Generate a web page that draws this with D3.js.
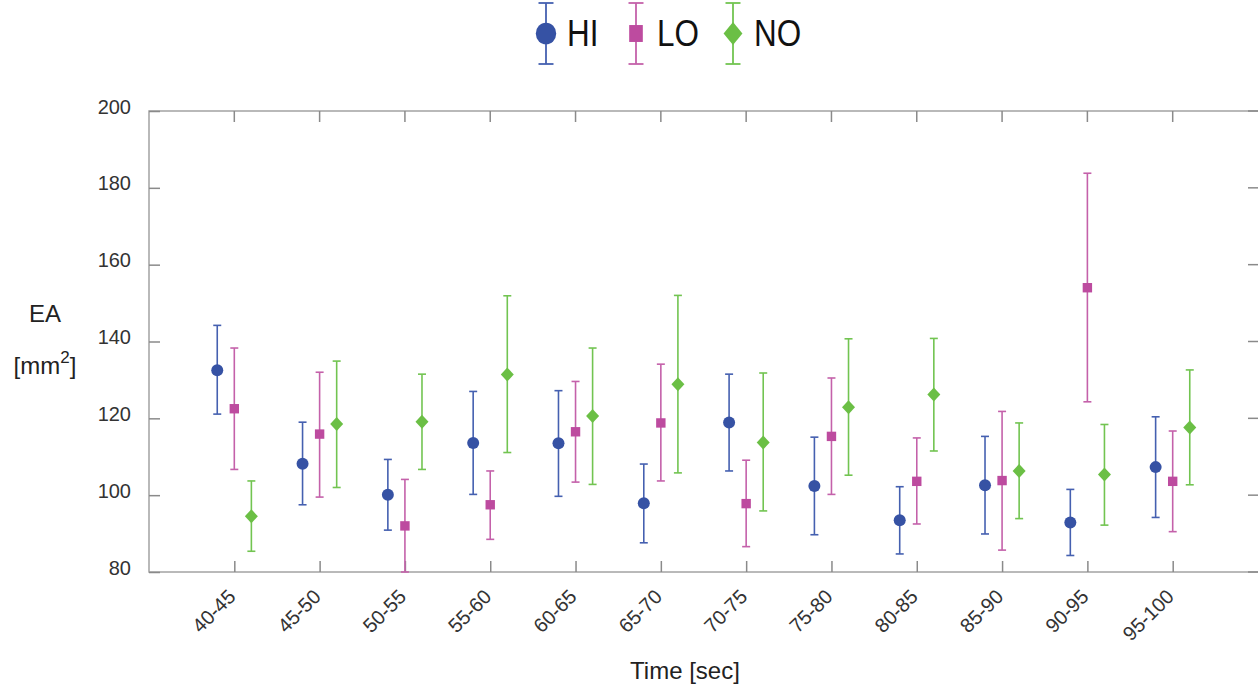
<!DOCTYPE html>
<html>
<head>
<meta charset="utf-8">
<script src="https://cdn.jsdelivr.net/npm/d3@7"></script>
<style>
  html, body { margin: 0; padding: 0; background: #ffffff; }
  svg { display: block; font-family: "Liberation Sans", Arial, sans-serif; }
</style>
</head>
<body>
<svg id="chart" width="1258" height="690"></svg>
<script>
// Time windows (x categories)
const categories = ["40-45", "45-50", "50-55", "55-60", "60-65", "65-70",
                    "70-75", "75-80", "80-85", "85-90", "90-95", "95-100"];

// HI group: mean with lower / upper error bounds
const hiMean = [132.5, 108.2, 100.1, 113.6, 113.5, 97.9, 118.9, 102.4, 93.5, 102.6, 92.9, 107.3];
const hiLow  = [121.1,  97.5,  90.9, 100.2,  99.7, 87.6, 106.3,  89.7, 84.7,  89.9, 84.3,  94.2];
const hiHigh = [144.2, 119.0, 109.3, 127.0, 127.2, 108.1, 131.5, 115.1, 102.2, 115.3, 101.5, 120.4];

// LO group
const loMean = [122.5, 115.9,  92.0,  97.5, 116.5, 118.8,  97.8, 115.3, 103.6, 103.8, 154.0, 103.6];
const loLow  = [106.7,  99.5,  80.0,  88.5, 103.4, 103.7,  86.6, 100.2,  92.5,  85.7, 124.3,  90.5];
const loHigh = [138.3, 132.0, 104.1, 106.3, 129.6, 134.1, 109.1, 130.5, 114.9, 121.8, 183.8, 116.7];

// NO group
const noMean = [ 94.5, 118.5, 119.1, 131.4, 120.6, 128.9, 113.7, 122.9, 126.2, 106.3, 105.4, 117.6];
const noLow  = [ 85.4, 102.0, 106.7, 111.1, 102.8, 105.8,  95.9, 105.2, 111.5,  93.9,  92.2, 102.7];
const noHigh = [103.7, 134.9, 131.5, 151.9, 138.3, 152.0, 131.8, 140.7, 140.8, 118.8, 118.4, 132.6];

const yTicks = [80, 100, 120, 140, 160, 180, 200];
const seriesNames = ["HI", "LO", "NO"];

const series = [
  { name: "HI", mean: hiMean, low: hiLow, high: hiHigh, color: "#3652a4", bar: "#4560b0", shape: "circle", offset: -0.2 },
  { name: "LO", mean: loMean, low: loLow, high: loHigh, color: "#bd4b9f", bar: "#c461aa", shape: "square", offset: 0 },
  { name: "NO", mean: noMean, low: noLow, high: noHigh, color: "#6bbf45", bar: "#72c451", shape: "diamond", offset: 0.2 }
];

const svg = d3.select("#chart");
const plotLeft = 149, plotRight = 1258, plotTop = 111, plotBottom = 572;

const x = d3.scaleLinear().domain([0, categories.length + 1]).range([plotLeft, plotRight]);
const y = d3.scaleLinear().domain([80, 200]).range([plotBottom, plotTop]);

const frameColor = "#a3a3a3";
const tickColor = "#8a8a8a";

// Frame
svg.append("rect")
  .attr("x", plotLeft).attr("y", plotTop)
  .attr("width", plotRight + 2 - plotLeft).attr("height", plotBottom - plotTop)
  .attr("fill", "none").attr("stroke", frameColor).attr("stroke-width", 1.5);

// Left and right inward ticks with labels
const yAxisL = d3.axisLeft(y).tickValues(yTicks).tickSize(0).tickPadding(18);
const gy = svg.append("g").attr("transform", `translate(${plotLeft},0)`).call(yAxisL);
gy.select(".domain").remove();
gy.selectAll(".tick text")
  .attr("font-size", 20).attr("fill", "#333").attr("dy", "0.1em")
  .attr("font-family", "Liberation Sans, Arial, sans-serif");
gy.selectAll(".tick").append("line")
  .attr("x1", 0).attr("x2", 11).attr("stroke", tickColor).attr("stroke-width", 1.5);

svg.append("g").selectAll("line").data(yTicks).join("line")
  .attr("x1", plotRight - 10).attr("x2", plotRight)
  .attr("y1", d => y(d)).attr("y2", d => y(d))
  .attr("stroke", tickColor).attr("stroke-width", 1.5);

// Bottom axis with rotated category labels
const xAxis = d3.axisBottom(x)
  .tickValues(d3.range(1, categories.length + 1))
  .tickFormat(i => categories[i - 1])
  .tickSize(0);
const gx = svg.append("g").attr("transform", `translate(0,${plotBottom})`).call(xAxis);
gx.select(".domain").remove();
gx.selectAll(".tick text")
  .attr("font-size", 20).attr("fill", "#333")
  .attr("font-family", "Liberation Sans, Arial, sans-serif")
  .attr("text-anchor", "end")
  .attr("transform", "translate(-3,21) rotate(-45)")
  .attr("y", 0).attr("dy", "0.35em");
gx.selectAll(".tick").append("line")
  .attr("y1", 0).attr("y2", -11).attr("stroke", tickColor).attr("stroke-width", 1.5);

// Top inward ticks
svg.append("g").selectAll("line").data(d3.range(1, categories.length + 1)).join("line")
  .attr("x1", d => x(d)).attr("x2", d => x(d))
  .attr("y1", plotTop).attr("y2", plotTop + 11)
  .attr("stroke", tickColor).attr("stroke-width", 1.5);

// Marker drawing helper
function drawMarker(g, shape, cx, cy, color, s) {
  if (shape === "circle") {
    g.append("ellipse").attr("cx", cx).attr("cy", cy)
      .attr("rx", 6 * s.w).attr("ry", 6 * s.h).attr("fill", color);
  } else if (shape === "square") {
    g.append("rect").attr("x", cx - 4.7 * s.w).attr("y", cy - 4.7 * s.h)
      .attr("width", 9.4 * s.w).attr("height", 9.4 * s.h).attr("fill", color);
  } else {
    const hw = 6.5 * s.w, hh = 7 * s.h;
    g.append("path")
      .attr("d", `M${cx},${cy - hh}L${cx + hw},${cy}L${cx},${cy + hh}L${cx - hw},${cy}Z`)
      .attr("fill", color);
  }
}

// Error bars and markers
series.forEach(s => {
  const g = svg.append("g").attr("class", "series-" + s.name);
  categories.forEach((c, i) => {
    const cx = x(i + 1 + s.offset);
    g.append("line").attr("x1", cx).attr("x2", cx)
      .attr("y1", y(s.low[i])).attr("y2", y(s.high[i]))
      .attr("stroke", s.bar).attr("stroke-width", 1.6);
    [s.low[i], s.high[i]].forEach(v => {
      g.append("line").attr("x1", cx - 4).attr("x2", cx + 4)
        .attr("y1", y(v)).attr("y2", y(v))
        .attr("stroke", s.bar).attr("stroke-width", 1.6);
    });
    drawMarker(g, s.shape, cx, y(s.mean[i]), s.color, { w: 1, h: 1 });
  });
});

// Legend
const legendX = [546, 636, 733];
const legend = svg.append("g").attr("class", "legend");
series.forEach((s, k) => {
  const cx = legendX[k];
  const g = legend.append("g");
  g.append("line").attr("x1", cx).attr("x2", cx).attr("y1", 3).attr("y2", 64)
    .attr("stroke", s.bar).attr("stroke-width", 1.8);
  [3, 64].forEach(yy => g.append("line")
    .attr("x1", cx - 7.5).attr("x2", cx + 7.5).attr("y1", yy).attr("y2", yy)
    .attr("stroke", s.bar).attr("stroke-width", 1.8));
  const scale = s.shape === "circle" ? { w: 1.7, h: 1.8 }
              : s.shape === "square" ? { w: 1.45, h: 1.8 }
              : { w: 1.45, h: 1.65 };
  drawMarker(g, s.shape, cx, 33.5, s.color, scale);
  g.append("text")
    .attr("transform", `translate(${cx + 21},46) scale(0.85,1)`)
    .attr("font-size", 37).attr("fill", "#111")
    .text(seriesNames[k]);
});

// Axis titles
svg.append("text").attr("x", 45).attr("y", 322).attr("text-anchor", "middle")
  .attr("font-size", 24).attr("fill", "#222").text("EA");
const unit = svg.append("text").attr("x", 45).attr("y", 374).attr("text-anchor", "middle")
  .attr("font-size", 24).attr("fill", "#222");
unit.append("tspan").text("[mm");
unit.append("tspan").attr("font-size", 17).attr("dy", -11).text("2");
unit.append("tspan").attr("dy", 11).text("]");

svg.append("text").attr("x", 685).attr("y", 679).attr("text-anchor", "middle")
  .attr("font-size", 24).attr("fill", "#222").text("Time [sec]");
</script>
</body>
</html>
